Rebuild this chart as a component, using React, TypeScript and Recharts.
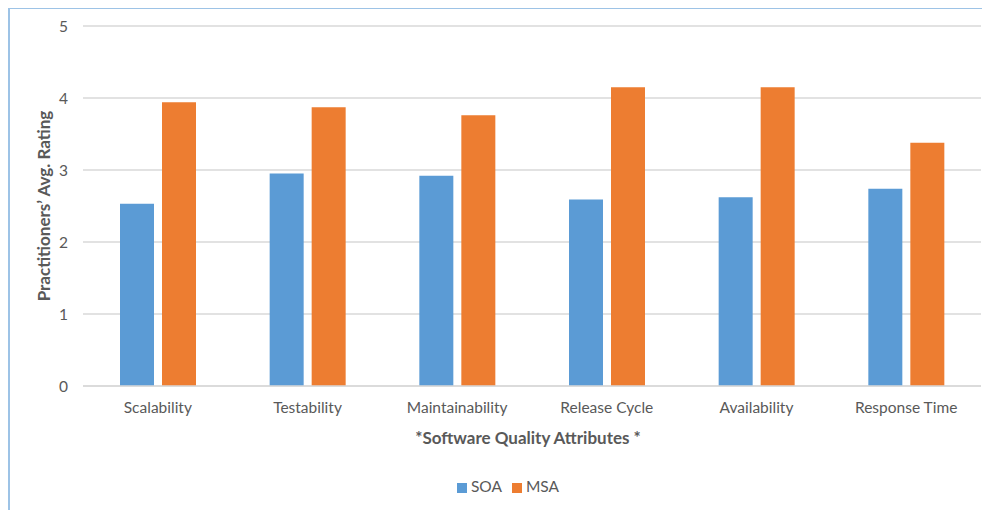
import React from 'react';
import { BarChart, Bar, XAxis, YAxis, CartesianGrid, Legend } from 'recharts';

const categories = ['Scalability', 'Testability', 'Maintainability', 'Release Cycle', 'Availability', 'Response Time'];
const soa = [2.53, 2.95, 2.92, 2.59, 2.62, 2.74];
const msa = [3.94, 3.87, 3.76, 4.15, 4.15, 3.38];
const yTicks = [0, 1, 2, 3, 4, 5];
const seriesOrder = ['SOA', 'MSA'];

const data = categories.map((name, i) => ({ name, SOA: soa[i], MSA: msa[i] }));

const FONT = 'Lato, "Open Sans", sans-serif';
const TEXT = '#595959';
const GRID = '#D9D9D9';

export default function App() {
  return (
    <div
      style={{
        width: 980,
        height: 501,
        borderLeft: '2px solid #9DC3E6',
        borderTop: '2px solid #9DC3E6',
        marginTop: -1,
        background: '#fff',
        fontFamily: FONT,
      }}
    >
      <BarChart
        width={980}
        height={501}
        data={data}
        margin={{ top: 17, right: 9, left: 0, bottom: 64 }}
        barSize={34}
        barGap={8}
      >
        <CartesianGrid vertical={false} stroke={GRID} strokeWidth={1.5} />
        <XAxis
          dataKey="name"
          height={60}
          tickLine={false}
          tickSize={0}
          tickMargin={16}
          axisLine={{ stroke: GRID, strokeWidth: 1.5 }}
          tick={{ fill: TEXT, fontSize: 15.5, fontFamily: FONT }}
          label={{
            value: '*Software Quality Attributes *',
            position: 'insideBottom',
            offset: 2,
            dx: -4,
            style: { fill: TEXT, fontSize: 17, fontWeight: 700, fontFamily: FONT },
          }}
        />
        <YAxis
          width={73}
          domain={[0, 5]}
          ticks={yTicks}
          tickLine={false}
          axisLine={false}
          tickSize={0}
          tickMargin={15}
          tick={{ fill: TEXT, fontSize: 15.5, fontFamily: FONT }}
          label={{
            value: 'Practitioners\u2019 Avg. Rating',
            angle: -90,
            position: 'center',
            dx: -3,
            style: { fill: TEXT, fontSize: 17, fontWeight: 700, fontFamily: FONT, textAnchor: 'middle' },
          }}
        />
        <Legend
          layout="horizontal"
          verticalAlign="middle"
          align="center"
          iconType="square"
          iconSize={10}
          itemSorter={(item: any) => seriesOrder.indexOf(item.value)}
          wrapperStyle={{ top: 468, left: 8, width: 990, fontSize: 15.5, fontFamily: FONT }}
          formatter={(value: string) => <span style={{ color: TEXT }}>{value}</span>}
        />
        <Bar dataKey="SOA" fill="#5B9BD5" isAnimationActive={false} />
        <Bar dataKey="MSA" fill="#ED7D31" isAnimationActive={false} />
      </BarChart>
    </div>
  );
}
